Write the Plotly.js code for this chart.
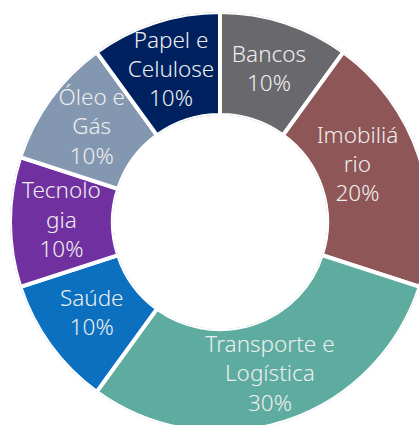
<!DOCTYPE html>
<html>
<head>
<meta charset="utf-8">
<script src="https://cdn.plot.ly/plotly-3.0.1.min.js"></script>
<style>
	html, body { margin: 0; padding: 0; overflow: hidden; background: #fff; }
	#graph { position: absolute; left: 10px; top: 12px; width: 420px; height: 420px; }
</style>
</head>
<body>
<div id="graph"></div>
<script>
// sectors, clockwise from 12 o'clock
var sectors = ['Bancos', 'Imobiliário', 'Transporte e Logística', 'Saúde', 'Tecnologia', 'Óleo e Gás', 'Papel e Celulose'];
var shares = [10, 20, 30, 10, 10, 10, 10];
// labels as they wrap on the chart
var wrapped = ['Bancos', 'Imobiliá<br>rio', 'Transporte e<br>Logística', 'Saúde', 'Tecnolo<br>gia', 'Óleo e<br>Gás', 'Papel e<br>Celulose'];
var colors = ['#69686d', '#8e5656', '#5eaca0', '#0b70c0', '#7030a0', '#8497b0', '#00215f'];

// donut drawn as polar bars so the labels can sit in the same subplot
var total = shares.reduce(function(a, b) { return a + b; }, 0);
var mids = [], widths = [], ones = [], labelR = [], labels = [];
var cum = 0;
for (var i = 0; i < shares.length; i++) {
	var w = shares[i] / total * 360;
	mids.push(cum + w / 2);
	widths.push(w);
	ones.push(1);
	labelR.push(0.5); // middle of the ring
	labels.push(wrapped[i] + '<br>' + shares[i] + '%');
	cum += w;
}
// Imobiliário label is pulled in a bit so it stays inside the chart area
var labelTheta = mids.slice();
labelTheta[1] -= 4;
labelR[1] = 0.4;
labelR[2] = 0.53;

var bars = {
	type: 'barpolar',
	r: ones,
	theta: mids,
	width: widths,
	marker: { color: colors, line: { color: '#ffffff', width: 4 } },
	hoverinfo: 'none'
};

var text_trace = {
	type: 'scatterpolar',
	mode: 'text',
	r: labelR,
	theta: labelTheta,
	text: labels,
	textposition: 'middle center',
	textfont: { family: '"Noto Sans", sans-serif', size: 22.5, weight: 300, color: '#eeeeee' },
	hoverinfo: 'none'
};

var layout = {
	width: 420,
	height: 420,
	margin: { l: 0, r: 0, t: 0, b: 0 },
	showlegend: false,
	paper_bgcolor: 'rgba(0,0,0,0)',
	polar: {
		domain: { x: [0, 1], y: [0, 1] },
		hole: 0.51,
		bgcolor: 'rgba(0,0,0,0)',
		radialaxis: { range: [0, 1], visible: false, showgrid: false },
		angularaxis: { direction: 'clockwise', rotation: 90, visible: false, showgrid: false }
	}
};

Plotly.newPlot('graph', [bars, text_trace], layout, { displayModeBar: false, staticPlot: true });
</script>
</body>
</html>
